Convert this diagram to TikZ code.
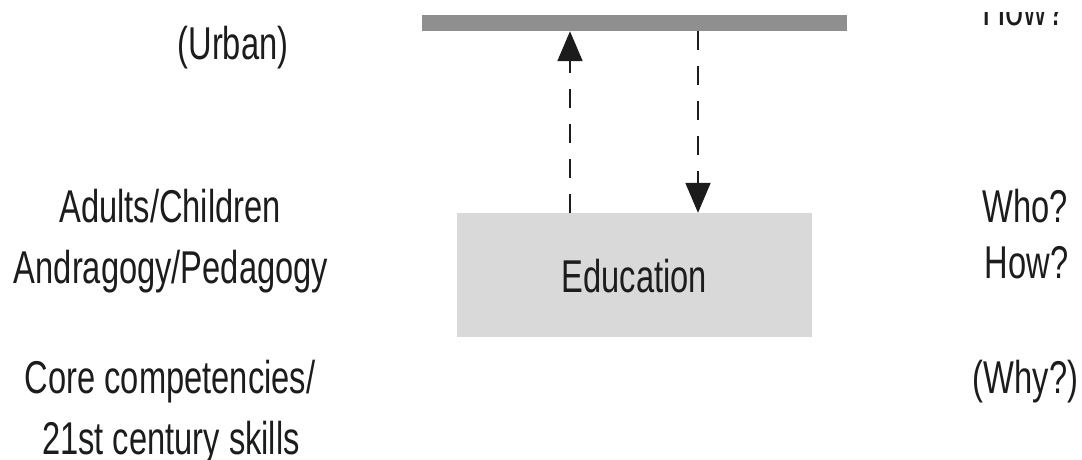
\documentclass[tikz,border=0pt]{standalone}
\usepackage{fontspec}
\setmainfont{Liberation Sans}
\usetikzlibrary{arrows.meta}
\definecolor{bargray}{HTML}{8F8F8F}
\definecolor{boxgray}{HTML}{D9D9D9}
\definecolor{ink}{HTML}{1C1C1C}
\newcommand{\narrow}[1]{\scalebox{0.71}[1]{#1}}
\begin{document}
\begin{tikzpicture}[x=1pt,y=-1pt,
  lbl/.style={anchor=base,inner sep=0pt,text=ink,font=\fontsize{46}{54}\selectfont},
  barstyle/.style={fill=bargray,draw=none,minimum width=425pt,minimum height=16pt,inner sep=0pt},
  boxstyle/.style={fill=boxgray,draw=none,minimum width=355pt,minimum height=124pt,inner sep=0pt},
  dashline/.style={draw=ink,line width=2pt,dash pattern=on 19pt off 16pt,
    -{Triangle[length=30pt,width=25pt]}}
]
\useasboundingbox (0,0) rectangle (1082,459);
% bar and box
\node[barstyle] (bar) at (634.5,23) {};
\node[boxstyle] (box) at (634.5,275) {};
\node[lbl] (edu) at (634.5,292) {\narrow{Education}};
% arrows
\coordinate (upx) at (570,0);
\coordinate (downx) at (698,0);
\draw[dashline] (box.north -| upx) -- (bar.south -| upx);
\draw[dashline] (bar.south -| downx) -- (box.north -| downx);
% left labels
\node[lbl] (urban) at (233,59) {\narrow{(Urban)}};
\node[lbl] (adults) at (170,222) {\narrow{Adults/Children}};
\node[lbl] (andra) at (171,283) {\narrow{Andragogy/Pedagogy}};
\node[lbl] (core) at (170,393) {\narrow{Core competencies/}};
\node[lbl] (skills) at (171,454) {\narrow{21st century skills}};
% right labels
\begin{scope}
  \clip (900,12) rectangle (1082,100);
  \node[lbl] (howtop) at (1024,25) {\narrow{How?}};
\end{scope}
\node[lbl] (who) at (1025.5,222) {\narrow{Who?}};
\node[lbl] (how) at (1026.5,278) {\narrow{How?}};
\node[lbl] (why) at (1025.5,393) {\narrow{(Why?)}};
\end{tikzpicture}
\end{document}
